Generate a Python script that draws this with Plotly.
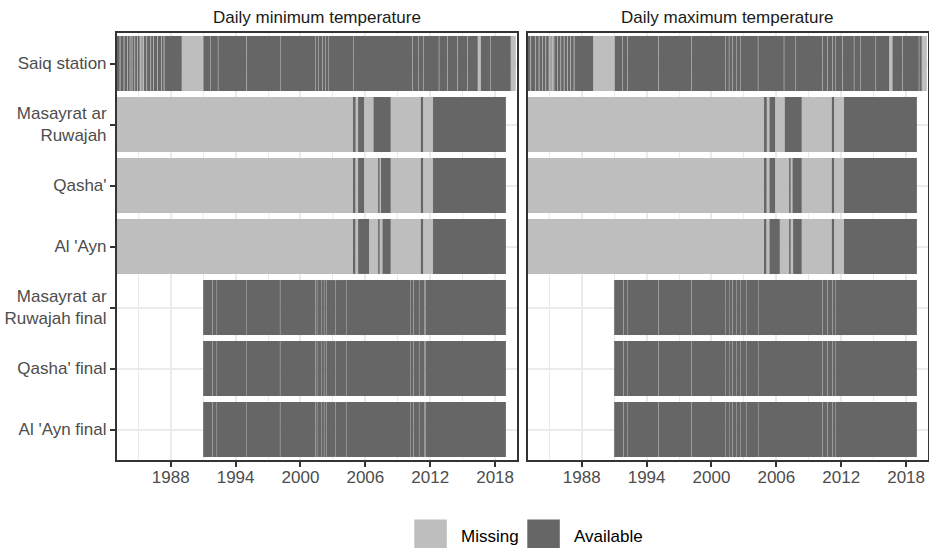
import plotly.graph_objects as go

W, H = 929, 548


def px(x):
    return x / W


def py(y):
    return 1 - y / H


# ---------------- data ----------------
categories = ["Saiq station", "Masayrat ar<br>Ruwajah", "Qasha'", "Al 'Ayn",
              "Masayrat ar<br>Ruwajah final", "Qasha' final", "Al 'Ayn final"]
panel_titles = ["Daily minimum temperature", "Daily maximum temperature"]
tick_years = [1988, 1994, 2000, 2006, 2012, 2018]
tick_labels = ["1988", "1994", "2000", "2006", "2012", "2018"]
minor_years = [1985, 1991, 1997, 2003, 2009, 2015]
status_labels = ["Missing", "Available"]
status_colors = ["#BEBEBE", "#666666"]

# record span per row (decimal years)
span_start = [1983.0, 1983.0, 1983.0, 1983.0, 1991.0, 1991.0, 1991.0]
span_end_tmin = [2019.92, 2019.0, 2019.0, 2019.0, 2019.0, 2019.0, 2019.0]
span_end_tmax = [2019.92, 2019.0, 2019.0, 2019.0, 2019.0, 2019.0, 2019.0]

# missing periods (decimal years) - daily minimum temperature
saiq_tmin_missing = [
    [1983.28, 1983.34], [1983.65, 1983.71], [1983.97, 1984.03], [1984.21, 1984.27],
    [1984.39, 1984.45], [1984.64, 1984.70], [1984.89, 1984.95], [1985.13, 1985.23],
    [1985.28, 1985.38], [1985.43, 1985.53], [1985.75, 1985.81], [1986.12, 1986.18],
    [1986.37, 1986.43], [1986.74, 1986.80], [1987.11, 1987.17], [1987.35, 1987.41],
    [1989.02, 1991.02],
    [1991.68, 1991.72], [1992.36, 1992.40], [1994.98, 1995.02], [1998.16, 1998.20],
    [2001.39, 2001.43], [2001.67, 2001.71], [2002.01, 2002.05], [2002.32, 2002.36],
    [2002.60, 2002.64], [2004.91, 2004.95], [2010.34, 2010.38], [2010.92, 2010.96],
    [2011.38, 2011.42], [2012.80, 2012.84], [2013.58, 2013.62], [2014.50, 2014.54],
    [2015.43, 2015.47], [2016.40, 2016.68], [2017.58, 2017.62], [2019.45, 2019.92],
]
masayrat_tmin_missing = [[1983.0, 2004.86], [2005.10, 2005.33], [2005.88, 2006.75],
                         [2008.35, 2011.13], [2011.34, 2012.26]]
qasha_tmin_missing = [[1983.0, 2004.86], [2005.08, 2005.33], [2005.88, 2007.18],
                      [2007.33, 2007.45], [2008.35, 2011.13], [2011.34, 2012.26]]
alayn_tmin_missing = [[1983.0, 2004.86], [2005.08, 2005.33], [2006.34, 2007.18],
                      [2007.33, 2007.58], [2008.35, 2011.13], [2011.34, 2012.26]]
final_tmin_missing = [
    [1991.85, 1991.88], [1992.25, 1992.28], [1995.02, 1995.05], [1998.10, 1998.13],
    [2001.39, 2001.42], [2001.52, 2001.55], [2001.96, 2001.99], [2002.17, 2002.20],
    [2002.42, 2002.45], [2003.25, 2003.28], [2004.27, 2004.30], [2010.13, 2010.16],
    [2010.44, 2010.47], [2010.96, 2010.99], [2011.44, 2011.47], [2011.55, 2011.58],
]

# missing periods (decimal years) - daily maximum temperature
saiq_tmax_missing = [
    [1983.25, 1983.31], [1983.71, 1983.77], [1984.02, 1984.08], [1984.33, 1984.39],
    [1984.64, 1984.70], [1984.95, 1985.05], [1985.10, 1985.20], [1985.25, 1985.35],
    [1985.39, 1985.46], [1985.72, 1985.78], [1986.03, 1986.09], [1986.34, 1986.40],
    [1986.65, 1986.71], [1986.95, 1987.01], [1987.26, 1987.32],
    [1989.05, 1991.05],
    [1991.74, 1991.78], [1992.21, 1992.25], [1995.08, 1995.12], [1998.13, 1998.17],
    [2001.30, 2001.34], [2001.61, 2001.65], [2001.92, 2001.96], [2002.32, 2002.36],
    [2002.69, 2002.73], [2004.29, 2004.33], [2006.69, 2006.73], [2007.78, 2007.82],
    [2010.25, 2010.29], [2010.71, 2010.75], [2011.17, 2011.21], [2011.48, 2011.52],
    [2012.10, 2012.14], [2013.17, 2013.21], [2013.79, 2013.83], [2015.18, 2015.22],
    [2016.43, 2016.74], [2017.65, 2017.69], [2019.18, 2019.22], [2019.45, 2019.92],
]
masayrat_tmax_missing = [[1983.0, 2004.86], [2005.12, 2005.36], [2005.88, 2006.78],
                         [2008.35, 2011.13], [2011.34, 2012.26]]
qasha_tmax_missing = [[1983.0, 2004.86], [2005.10, 2005.36], [2005.88, 2007.18],
                      [2007.33, 2007.49], [2008.35, 2011.13], [2011.34, 2012.26]]
alayn_tmax_missing = [[1983.0, 2004.86], [2005.08, 2005.36], [2006.32, 2007.18],
                      [2007.33, 2007.55], [2008.35, 2011.13], [2011.34, 2012.26]]
final_tmax_missing = [
    [1991.85, 1991.88], [1992.25, 1992.28], [1995.09, 1995.12], [1998.14, 1998.17],
    [2001.31, 2001.34], [2001.62, 2001.65], [2001.93, 2001.96], [2002.33, 2002.36],
    [2002.70, 2002.73], [2003.25, 2003.28], [2004.30, 2004.33], [2010.26, 2010.29],
    [2010.72, 2010.75], [2011.18, 2011.21], [2011.49, 2011.52],
]

missing_tmin = [saiq_tmin_missing, masayrat_tmin_missing, qasha_tmin_missing,
                alayn_tmin_missing, final_tmin_missing, final_tmin_missing, final_tmin_missing]
missing_tmax = [saiq_tmax_missing, masayrat_tmax_missing, qasha_tmax_missing,
                alayn_tmax_missing, final_tmax_missing, final_tmax_missing, final_tmax_missing]


def complement(start, end, gaps):
    segs, cur = [], start
    for a, b in sorted(gaps):
        a, b = max(a, start), min(b, end)
        if a > cur:
            segs.append((cur, a))
        cur = max(cur, b)
    if cur < end:
        segs.append((cur, end))
    return segs


# ---------------- figure ----------------
FONT = "Liberation Sans, Arial, sans-serif"
fig = go.Figure()

panel_data = [(missing_tmin, span_end_tmin, "x", "y"), (missing_tmax, span_end_tmax, "x2", "y2")]
for missing_rows, span_end, xa, ya in panel_data:
    seg = {"Missing": ([], [], []), "Available": ([], [], [])}
    for i, cat in enumerate(categories):
        s, e = span_start[i], span_end[i]
        miss = [(max(a, s), min(b, e)) for a, b in missing_rows[i] if min(b, e) > max(a, s)]
        for a, b in miss:
            seg["Missing"][0].append(cat)
            seg["Missing"][1].append(a)
            seg["Missing"][2].append(b - a)
        for a, b in complement(s, e, miss):
            seg["Available"][0].append(cat)
            seg["Available"][1].append(a)
            seg["Available"][2].append(b - a)
    for lab, col in zip(status_labels, status_colors):
        ys, bases, widths = seg[lab]
        fig.add_trace(go.Bar(
            orientation="h", y=ys, x=widths, base=bases, name=lab,
            marker=dict(color=col, line=dict(color=col, width=0.02)),
            xaxis=xa, yaxis=ya, showlegend=False, hoverinfo="skip",
        ))

x_domains = [[px(116.7), px(516.7)], [px(527.7), px(927.7)]]
y_domain = [py(460), py(33)]

common_x = dict(
    range=[1983.0, 2020.0], tickmode="array", tickvals=tick_years, ticktext=tick_labels,
    showgrid=True, gridcolor="#EBEBEB", gridwidth=2,
    minor=dict(tickmode="array", tickvals=minor_years, showgrid=True,
               gridcolor="#EBEBEB", gridwidth=1.2, ticks=""),
    showline=True, linecolor="#333333", linewidth=1.5, mirror=True,
    ticks="outside", ticklen=5, tickwidth=1.5, tickcolor="#333333",
    ticklabelstandoff=-4,
    tickfont=dict(family=FONT, size=17, color="#4D4D4D"),
    zeroline=False, automargin=False, fixedrange=True,
)
common_y = dict(
    type="category", categoryorder="array", categoryarray=categories,
    range=[6.5, -0.5],
    showgrid=True, gridcolor="#EBEBEB", gridwidth=2,
    showline=True, linecolor="#333333", linewidth=1.5, mirror=True,
    zeroline=False, automargin=False, fixedrange=True,
    tickfont=dict(family=FONT, size=17, color="#4D4D4D"),
)

fig.update_layout(
    width=W, height=H,
    margin=dict(l=0, r=0, t=0, b=0),
    paper_bgcolor="white", plot_bgcolor="white",
    barmode="overlay", bargap=0.1,
    showlegend=False,
    xaxis=dict(common_x, domain=x_domains[0], anchor="y"),
    xaxis2=dict(common_x, domain=x_domains[1], anchor="y2"),
    yaxis=dict(common_y, domain=y_domain, anchor="x", ticks="outside", ticklen=5,
               tickwidth=1.5, tickcolor="#333333", showticklabels=True),
    yaxis2=dict(common_y, domain=y_domain, anchor="x2", ticks="", showticklabels=False),
    font=dict(family=FONT, size=17, color="#1A1A1A"),
)

# facet strip titles
for title, dom in zip(panel_titles, x_domains):
    fig.add_annotation(text=title, xref="paper", yref="paper",
                       x=(dom[0] + dom[1]) / 2, y=py(17), xanchor="center",
                       yanchor="middle", showarrow=False,
                       font=dict(family=FONT, size=17, color="#1A1A1A"))

# legend (keys + labels)
key_left = [414.3, 527.3]
text_left = [458.5, 571.5]
for lab, col, kx, tx in zip(status_labels, status_colors, key_left, text_left):
    fig.add_shape(type="rect", xref="paper", yref="paper",
                  x0=px(kx), x1=px(kx + 32.5), y0=py(552.5), y1=py(519.5),
                  fillcolor=col, line=dict(width=0))
    fig.add_annotation(text=lab, xref="paper", yref="paper", x=px(tx), y=py(536),
                       xanchor="left", yanchor="middle", showarrow=False,
                       font=dict(family=FONT, size=17, color="#000000"))

fig.write_html("out.html", config={"displayModeBar": False},
               post_script="document.body.style.margin='0px';document.body.style.overflow='hidden';")
